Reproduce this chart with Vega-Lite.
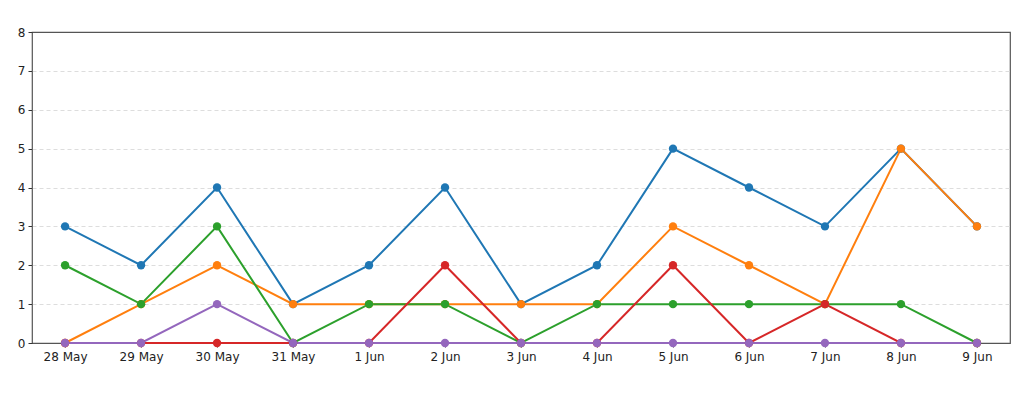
{
  "$schema": "https://vega.github.io/schema/vega-lite/v6.json",
  "width": 978,
  "height": 311,
  "autosize": "none",
  "padding": {"left": 32, "top": 32, "right": 14, "bottom": 66},
  "background": "white",
  "config": {
    "view": {"stroke": "#555", "strokeWidth": 1.2},
    "font": "DejaVu Sans"
  },
  "data": {
    "values": [
      {"day": "28 May", "s": "a", "v": 3}, {"day": "29 May", "s": "a", "v": 2}, {"day": "30 May", "s": "a", "v": 4},
      {"day": "31 May", "s": "a", "v": 1}, {"day": "1 Jun", "s": "a", "v": 2}, {"day": "2 Jun", "s": "a", "v": 4},
      {"day": "3 Jun", "s": "a", "v": 1}, {"day": "4 Jun", "s": "a", "v": 2}, {"day": "5 Jun", "s": "a", "v": 5},
      {"day": "6 Jun", "s": "a", "v": 4}, {"day": "7 Jun", "s": "a", "v": 3}, {"day": "8 Jun", "s": "a", "v": 5},
      {"day": "9 Jun", "s": "a", "v": 3},
      {"day": "28 May", "s": "b", "v": 0}, {"day": "29 May", "s": "b", "v": 1}, {"day": "30 May", "s": "b", "v": 2},
      {"day": "31 May", "s": "b", "v": 1}, {"day": "1 Jun", "s": "b", "v": 1}, {"day": "2 Jun", "s": "b", "v": 1},
      {"day": "3 Jun", "s": "b", "v": 1}, {"day": "4 Jun", "s": "b", "v": 1}, {"day": "5 Jun", "s": "b", "v": 3},
      {"day": "6 Jun", "s": "b", "v": 2}, {"day": "7 Jun", "s": "b", "v": 1}, {"day": "8 Jun", "s": "b", "v": 5},
      {"day": "9 Jun", "s": "b", "v": 3},
      {"day": "28 May", "s": "c", "v": 2}, {"day": "29 May", "s": "c", "v": 1}, {"day": "30 May", "s": "c", "v": 3},
      {"day": "31 May", "s": "c", "v": 0}, {"day": "1 Jun", "s": "c", "v": 1}, {"day": "2 Jun", "s": "c", "v": 1},
      {"day": "3 Jun", "s": "c", "v": 0}, {"day": "4 Jun", "s": "c", "v": 1}, {"day": "5 Jun", "s": "c", "v": 1},
      {"day": "6 Jun", "s": "c", "v": 1}, {"day": "7 Jun", "s": "c", "v": 1}, {"day": "8 Jun", "s": "c", "v": 1},
      {"day": "9 Jun", "s": "c", "v": 0},
      {"day": "28 May", "s": "d", "v": 0}, {"day": "29 May", "s": "d", "v": 0}, {"day": "30 May", "s": "d", "v": 0},
      {"day": "31 May", "s": "d", "v": 0}, {"day": "1 Jun", "s": "d", "v": 0}, {"day": "2 Jun", "s": "d", "v": 2},
      {"day": "3 Jun", "s": "d", "v": 0}, {"day": "4 Jun", "s": "d", "v": 0}, {"day": "5 Jun", "s": "d", "v": 2},
      {"day": "6 Jun", "s": "d", "v": 0}, {"day": "7 Jun", "s": "d", "v": 1}, {"day": "8 Jun", "s": "d", "v": 0},
      {"day": "9 Jun", "s": "d", "v": 0},
      {"day": "28 May", "s": "e", "v": 0}, {"day": "29 May", "s": "e", "v": 0}, {"day": "30 May", "s": "e", "v": 1},
      {"day": "31 May", "s": "e", "v": 0}, {"day": "1 Jun", "s": "e", "v": 0}, {"day": "2 Jun", "s": "e", "v": 0},
      {"day": "3 Jun", "s": "e", "v": 0}, {"day": "4 Jun", "s": "e", "v": 0}, {"day": "5 Jun", "s": "e", "v": 0},
      {"day": "6 Jun", "s": "e", "v": 0}, {"day": "7 Jun", "s": "e", "v": 0}, {"day": "8 Jun", "s": "e", "v": 0},
      {"day": "9 Jun", "s": "e", "v": 0}
    ]
  },
  "mark": {"type": "line", "strokeWidth": 2, "point": {"filled": true, "size": 70, "opacity": 1}},
  "encoding": {
    "x": {
      "field": "day",
      "type": "ordinal",
      "sort": null,
      "scale": {"type": "point", "padding": 0.435},
      "axis": {
        "title": null,
        "labelAngle": 0,
        "labelFontSize": 12,
        "labelColor": "#222",
        "labelPadding": 4,
        "tickColor": "#333",
        "tickSize": 4,
        "domain": false,
        "grid": false
      }
    },
    "y": {
      "field": "v",
      "type": "quantitative",
      "scale": {"domain": [0, 8], "nice": false, "zero": true},
      "axis": {
        "title": null,
        "values": [0, 1, 2, 3, 4, 5, 6, 7, 8],
        "labelFontSize": 12,
        "labelColor": "#222",
        "labelPadding": 3,
        "tickColor": "#333",
        "tickSize": 4,
        "domain": false,
        "grid": true,
        "gridColor": "#dddddd",
        "gridOpacity": {"condition": {"test": "datum.value == 0 || datum.value == 8", "value": 0}, "value": 1},
        "gridDash": [4, 3],
        "gridWidth": 1
      }
    },
    "color": {
      "field": "s",
      "type": "nominal",
      "scale": {"domain": ["a", "b", "c", "d", "e"], "range": ["#1f77b4", "#ff7f0e", "#2ca02c", "#d62728", "#9467bd"]},
      "legend": null
    }
  }
}
